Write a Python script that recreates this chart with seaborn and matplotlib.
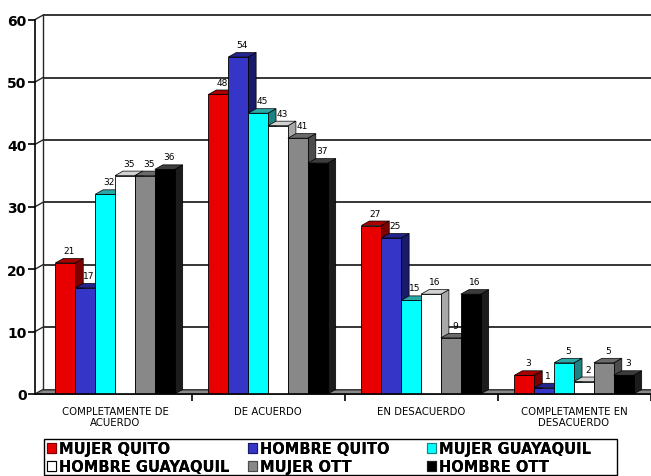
import numpy as np
import pandas as pd
import matplotlib
matplotlib.use("Agg")
import matplotlib.pyplot as plt
import seaborn as sns
from matplotlib.patches import Polygon, Patch, Rectangle

# ---------------- data ----------------
categories = ["COMPLETAMENTE DE\nACUERDO", "DE ACUERDO", "EN DESACUERDO",
              "COMPLETAMENTE EN\nDESACUERDO"]
series = ["MUJER QUITO", "HOMBRE QUITO", "MUJER GUAYAQUIL",
          "HOMBRE GUAYAQUIL", "MUJER OTT", "HOMBRE OTT"]
mujer_quito = [21, 48, 27, 3]
hombre_quito = [17, 54, 25, 1]
mujer_guayaquil = [32, 45, 15, 5]
hombre_guayaquil = [35, 43, 16, 2]
mujer_ott = [35, 41, 9, 5]
hombre_ott = [36, 37, 16, 3]
yticks = [0, 10, 20, 30, 40, 50, 60]

series_values = [mujer_quito, hombre_quito, mujer_guayaquil,
                 hombre_guayaquil, mujer_ott, hombre_ott]

# ---------------- styles ----------------
colors_front = ["#E80000", "#3535C8", "#00FFFF", "#FFFFFF", "#888888", "#000000"]
colors_top = ["#A80000", "#24248E", "#2AA8A8", "#D2D2D2", "#6A6A6A", "#3C3C3C"]
colors_side = ["#7C0000", "#1A1A6A", "#1E8282", "#A8A8A8", "#4C4C4C", "#1C1C1C"]

rows = []
for name, vals in zip(series, series_values):
    for cat, v in zip(categories, vals):
        rows.append({"categoria": cat, "serie": name, "valor": v})
df = pd.DataFrame(rows)

W, H = 651, 477
fig = plt.figure(figsize=(W / 100, H / 100), dpi=100)
left_px, right_px, bottom_px, top_px = 35, 651, 395, 16
ax = fig.add_axes([left_px / W, (H - bottom_px) / H,
                   (right_px - left_px) / W, (bottom_px - top_px) / H])

px_x = 153.0   # px per category
px_y = 6.24    # px per unit
dx = 8 / px_x
dy = 4.5 / px_y
xlim = (-0.523, -0.523 + (right_px - left_px) / px_x)
ylim = (0, (bottom_px - top_px) / px_y)

sns.barplot(data=df, x="categoria", y="valor", hue="serie",
            order=categories, hue_order=series, palette=colors_front,
            saturation=1, width=0.78, edgecolor="black", linewidth=0.6,
            legend=False, ax=ax)
ax.set_xlim(*xlim)
ax.set_ylim(*ylim)

# back wall / gridlines
xb = xlim[0] + dx
for v in yticks:
    ax.plot([xb, xlim[1] + 0.05], [v + dy, v + dy], color="#262626", lw=1.3,
            zorder=0.5, clip_on=False, solid_capstyle="butt")
    ax.plot([xlim[0], xb], [v, v + dy], color="#262626", lw=1.0, zorder=0.5,
            clip_on=False)
ax.plot([xb, xb], [dy, yticks[-1] + dy], color="#262626", lw=1.0, zorder=0.5,
        clip_on=False)

# floor
floor = Polygon([(xlim[0], 0), (xlim[1] + 0.05, 0), (xlim[1] + 0.05, dy),
                 (xlim[0] + dx, dy)], closed=True, facecolor="#8A8A8A",
                edgecolor="#555555", lw=0.5, zorder=1, clip_on=False)
ax.add_patch(floor)

# 3-D faces, labels
for j, cont in enumerate(ax.containers):
    for bar, v in zip(cont.patches, series_values[j]):
        bar.set_zorder(3 + 2 * j)
        x0, w, h = bar.get_x(), bar.get_width(), bar.get_height()
        top = Polygon([(x0, h), (x0 + w, h), (x0 + w + dx, h + dy),
                       (x0 + dx, h + dy)], closed=True,
                      facecolor=colors_top[j], edgecolor="black", lw=0.5,
                      zorder=2 + 2 * j)
        side = Polygon([(x0 + w, 0), (x0 + w + dx, dy), (x0 + w + dx, h + dy),
                        (x0 + w, h)], closed=True, facecolor=colors_side[j],
                       edgecolor="black", lw=0.5, zorder=2 + 2 * j)
        ax.add_patch(side)
        ax.add_patch(top)
        ax.annotate(str(v), (x0 + w / 2 + dx / 2, h + dy), xytext=(0, 2.5),
                    textcoords="offset points", ha="center", va="bottom",
                    fontsize=6.5, color="black", zorder=30)

# axes styling
for s in ["top", "right"]:
    ax.spines[s].set_visible(False)
ax.spines["left"].set_bounds(0, 60)
ax.spines["left"].set_linewidth(1.2)
ax.spines["bottom"].set_linewidth(1.2)
ax.spines["left"].set_zorder(40)
ax.spines["bottom"].set_zorder(40)
ax.set_facecolor("white")

ax.set_yticks(yticks)
ax.set_yticklabels([str(t) for t in yticks], fontsize=10, fontweight="bold",
                   family="DejaVu Sans")
ax.tick_params(axis="y", length=5, width=1.2, pad=1)
ax.set_xticks(range(len(categories)))
ax.set_xticklabels(categories, fontsize=7.3, linespacing=1.05)
ax.tick_params(axis="x", which="major", length=0, pad=9)
ax.set_xticks([0.5, 1.5, 2.5, 3.5], minor=True)
ax.tick_params(axis="x", which="minor", length=5, width=1.2)
ax.set_xlabel("")
ax.set_ylabel("")

# legend: one column each, framed together
handles = [Patch(facecolor=colors_front[i], edgecolor=colors_side[i]
                 if i != 3 else "black", lw=0.8) for i in range(6)]
col_x = [47, 248, 427]
columns = [[0, 3], [1, 4], [2, 5]]
for cx, idx in zip(col_x, columns):
    lg = fig.legend([handles[i] for i in idx], [series[i] for i in idx],
                    loc="upper left", bbox_to_anchor=(cx / W, 1 - 442 / H),
                    ncol=1, frameon=False,
                    prop=dict(weight="bold", size=10.5, family="DejaVu Sans"),
                    handlelength=0.65, handleheight=0.65, handletextpad=0.2,
                    borderpad=0, labelspacing=0.22, borderaxespad=0)
    fig.add_artist(lg)
frame = Rectangle((44 / W, 1 - 476 / H), (617 - 44) / W, (476 - 440) / H,
                  transform=fig.transFigure, facecolor="none",
                  edgecolor="black", lw=1.0)
fig.add_artist(frame)

fig.savefig("out.png", dpi=100, facecolor="white")
